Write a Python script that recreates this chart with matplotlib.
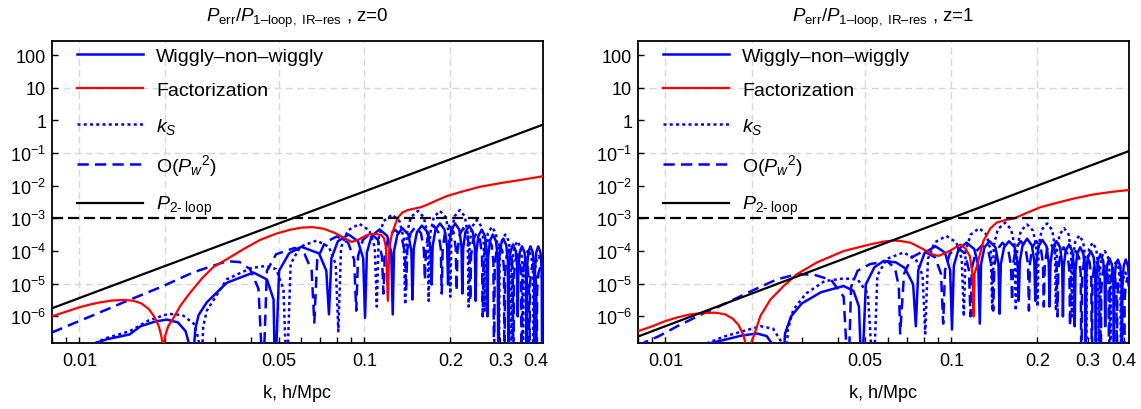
import numpy as np
import matplotlib.pyplot as plt
from matplotlib.ticker import FixedLocator, FuncFormatter, NullFormatter

plt.rcParams['font.family'] = ['Liberation Sans', 'DejaVu Sans']
plt.rcParams['mathtext.fontset'] = 'custom'
plt.rcParams['mathtext.rm'] = 'Liberation Sans'
plt.rcParams['mathtext.it'] = 'Liberation Sans:italic'
plt.rcParams['mathtext.sf'] = 'Liberation Sans'

# ---------------- z = 0 ----------------
k_2loop_z0 = [0.008, 0.423]
p_2loop_z0 = [1.76e-6, 0.74]

k_fact_z0 = [0.008, 0.009, 0.010, 0.011, 0.012, 0.013, 0.0143, 0.0155, 0.0165, 0.0175,
             0.0183, 0.0190, 0.0194, 0.0197, 0.0200, 0.0205, 0.0214, 0.0226, 0.0245, 0.027,
             0.0296, 0.0332, 0.038, 0.0431, 0.049, 0.055, 0.060, 0.0658, 0.072, 0.0787,
             0.085, 0.0903, 0.096, 0.1013, 0.1045, 0.110, 0.1145, 0.117, 0.119, 0.1208,
             0.1222, 0.1245, 0.1265, 0.129, 0.131, 0.1357, 0.142, 0.150, 0.158, 0.1656,
             0.180, 0.1945, 0.220, 0.2547, 0.300, 0.370, 0.423]
p_fact_z0 = [1.0e-6, 1.4e-6, 1.9e-6, 2.35e-6, 2.75e-6, 3.05e-6, 3.2e-6, 3.0e-6, 2.5e-6, 1.7e-6,
             1.0e-6, 5e-7, 2.5e-7, 1.0e-7, 2.5e-7, 5e-7, 9e-7, 2.1e-6, 5.4e-6, 1.5e-5,
             3.3e-5, 5.9e-5, 1.2e-4, 2.2e-4, 3.4e-4, 4.5e-4, 5.2e-4, 5.4e-4, 4.8e-4, 3.6e-4,
             2.5e-4, 1.9e-4, 2.3e-4, 3.0e-4, 3.3e-4, 3.3e-4, 3.1e-4, 2.5e-4, 1.3e-4, 3e-6,
             1.2e-4, 3e-4, 4.6e-4, 7.5e-4, 1.05e-3, 1.5e-3, 1.8e-3, 2.0e-3, 2.2e-3, 2.6e-3,
             3.6e-3, 4.8e-3, 6.6e-3, 9.3e-3, 1.2e-2, 1.6e-2, 1.95e-2]

k_wig_z0 = [0.0110, 0.0113, 0.0125, 0.015, 0.0164, 0.0185, 0.0203, 0.0222, 0.0236, 0.0244, 0.0248,
            0.0255, 0.0262, 0.028, 0.0329, 0.0408, 0.0455, 0.048, 0.0486,
            0.0502, 0.0544, 0.060, 0.0693, 0.0735, 0.0751,
            0.0766, 0.0807, 0.088, 0.0949, 0.099, 0.1005,
            0.102, 0.106, 0.113, 0.1202, 0.1242, 0.1257,
            0.127, 0.1305, 0.136, 0.1426, 0.1461, 0.1474,
            0.1489, 0.1528, 0.159, 0.1666, 0.1705, 0.172,
            0.1735, 0.1774, 0.184, 0.1911, 0.195, 0.1965,
            0.198, 0.2018, 0.208, 0.2152, 0.219, 0.2205,
            0.222, 0.226, 0.233, 0.240, 0.244, 0.2455,
            0.247, 0.2509, 0.258, 0.2646, 0.2685, 0.270,
            0.2715, 0.2755, 0.282, 0.2894, 0.2934, 0.2949,
            0.2964, 0.3004, 0.307, 0.3145, 0.3185, 0.320,
            0.3215, 0.3255, 0.332, 0.3395, 0.3435, 0.345,
            0.3465, 0.3505, 0.357, 0.3645, 0.3685, 0.370,
            0.3715, 0.3755, 0.382, 0.3895, 0.3935, 0.395,
            0.3965, 0.4005, 0.407, 0.4145, 0.4185, 0.420, 0.423]
p_wig_z0 = [1e-8, 1.5e-7, 2e-7, 2.8e-7, 5e-7, 7e-7, 8e-7, 6.5e-7, 3.5e-7, 1.2e-7, 1e-8,
            4e-7, 1.1e-6, 2.7e-6, 1.07e-5, 2.2e-5, 1.35e-5, 3.3e-6, 1e-8,
            2.5e-5, 8.5e-5, 1.35e-4, 8.5e-5, 2.5e-5, 1.15e-6,
            6e-5, 2e-4, 3.2e-4, 2e-4, 6e-5, 9e-7,
            9e-5, 2.9e-4, 4.6e-4, 2.9e-4, 9e-5, 1.15e-6,
            1e-4, 3.2e-4, 5e-4, 3.2e-4, 1e-4, 3.3e-6,
            1.2e-4, 3.8e-4, 6e-4, 3.8e-4, 1.2e-4, 9.5e-6,
            1.4e-4, 4.5e-4, 7e-4, 4.5e-4, 1.4e-4, 9.5e-6,
            1.4e-4, 4.5e-4, 7e-4, 4.5e-4, 1.4e-4, 5e-6,
            1.2e-4, 3.8e-4, 6e-4, 3.8e-4, 1.2e-4, 3e-6,
            9e-5, 2.9e-4, 4.5e-4, 2.9e-4, 9e-5, 1e-6,
            6.4e-5, 2e-4, 3.2e-4, 2e-4, 6.4e-5, 1e-8,
            4.8e-5, 1.5e-4, 2.4e-4, 1.5e-4, 4.8e-5, 1e-8,
            3.2e-5, 1e-4, 1.6e-4, 1e-4, 3.2e-5, 1e-6,
            2.8e-5, 9e-5, 1.4e-4, 9e-5, 2.8e-5, 1e-8,
            2.8e-5, 9e-5, 1.4e-4, 9e-5, 2.8e-5, 1e-8,
            2.8e-5, 9e-5, 1.4e-4, 9e-5, 2.8e-5, 1e-8, 2e-5]

k_ks_z0 = [0.0112, 0.0115, 0.0125, 0.015, 0.0175, 0.0205, 0.023, 0.0252, 0.0262, 0.0267,
           0.0272, 0.028, 0.0329, 0.040, 0.045, 0.049, 0.052, 0.0534,
           0.0551, 0.0595, 0.068, 0.075, 0.0793, 0.081,
           0.0828, 0.0875, 0.096, 0.104, 0.1087, 0.1105,
           0.1122, 0.1168, 0.125, 0.1327, 0.1373, 0.139,
           0.1407, 0.1454, 0.154, 0.1616, 0.1663, 0.168,
           0.1699, 0.175, 0.184, 0.193, 0.1981, 0.200,
           0.2019, 0.207, 0.216, 0.225, 0.2301, 0.232,
           0.2339, 0.239, 0.248, 0.257, 0.2621, 0.264,
           0.2659, 0.271, 0.280, 0.289, 0.2941, 0.296,
           0.2979, 0.303, 0.312, 0.321, 0.3261, 0.328,
           0.3299, 0.335, 0.344, 0.353, 0.3581, 0.360,
           0.3619, 0.367, 0.376, 0.385, 0.3901, 0.392,
           0.3939, 0.399, 0.408, 0.417, 0.423]
p_ks_z0 = [1e-8, 1.6e-7, 2.2e-7, 3.5e-7, 7.5e-7, 1.2e-6, 1.1e-6, 6e-7, 2e-7, 1e-8,
           5e-7, 1.5e-6, 1.37e-5, 3e-5, 3.5e-5, 2.8e-5, 7e-6, 1e-8,
           4e-5, 1.35e-4, 2.1e-4, 1.35e-4, 4e-5, 3.5e-7,
           1.3e-4, 4.3e-4, 6.8e-4, 4.3e-4, 1.3e-4, 2e-6,
           2.5e-4, 8.3e-4, 1.3e-3, 8.3e-4, 2.5e-4, 2.3e-6,
           3.3e-4, 1.08e-3, 1.7e-3, 1.08e-3, 3.3e-4, 3e-6,
           3.3e-4, 1.08e-3, 1.7e-3, 1.08e-3, 3.3e-4, 4e-6,
           3.5e-4, 1.15e-3, 1.8e-3, 1.15e-3, 3.5e-4, 2e-6,
           1.8e-4, 5.7e-4, 9e-4, 5.7e-4, 1.8e-4, 1.5e-6,
           1.1e-4, 3.5e-4, 5.5e-4, 3.5e-4, 1.1e-4, 1e-8,
           6.4e-5, 2e-4, 3.2e-4, 2e-4, 6.4e-5, 1e-8,
           4e-5, 1.3e-4, 2e-4, 1.3e-4, 4e-5, 1e-8,
           2.2e-5, 7e-5, 1.1e-4, 7e-5, 2.2e-5, 1e-8,
           1.4e-5, 4.5e-5, 7e-5, 4.5e-5, 1.5e-5]

k_pw2_z0 = [0.008, 0.0095, 0.0115, 0.0143, 0.0197, 0.025, 0.0296, 0.033, 0.0365, 0.0397, 0.0425, 0.0441,
            0.0455, 0.049, 0.057, 0.0617, 0.0653, 0.0667,
            0.0683, 0.0726, 0.080, 0.0877, 0.092, 0.0936,
            0.095, 0.0987, 0.105, 0.1115, 0.1152, 0.1166,
            0.118, 0.1218, 0.128, 0.1348, 0.1386, 0.140,
            0.1414, 0.1451, 0.151, 0.1579, 0.1616, 0.163,
            0.1644, 0.1682, 0.175, 0.1815, 0.1853, 0.1867,
            0.1881, 0.1919, 0.198, 0.2053, 0.2091, 0.2105,
            0.212, 0.2159, 0.222, 0.2296, 0.2335, 0.235,
            0.2365, 0.2405, 0.247, 0.2545, 0.2585, 0.260,
            0.2615, 0.2655, 0.272, 0.2794, 0.2834, 0.2849,
            0.2864, 0.2904, 0.297, 0.3045, 0.3085, 0.310,
            0.3114, 0.3151, 0.321, 0.3279, 0.3316, 0.333,
            0.3344, 0.3381, 0.344, 0.3509, 0.3546, 0.356,
            0.3574, 0.3611, 0.367, 0.3739, 0.3776, 0.379,
            0.3804, 0.3841, 0.390, 0.3969, 0.4006, 0.402,
            0.4034, 0.4071, 0.413, 0.420, 0.423]
p_pw2_z0 = [3.2e-7, 6e-7, 1.2e-6, 2.7e-6, 8.5e-6, 2.2e-5, 3.6e-5, 4.9e-5, 4.6e-5, 2.8e-5, 7e-6, 1e-8,
            2.5e-5, 8e-5, 1.25e-4, 8e-5, 2.5e-5, 6.5e-7,
            5.5e-5, 1.8e-4, 2.8e-4, 1.8e-4, 5.5e-5, 1.5e-6,
            7e-5, 2.2e-4, 3.5e-4, 2.2e-4, 7e-5, 5e-6,
            9e-5, 2.9e-4, 4.5e-4, 2.9e-4, 9e-5, 6e-6,
            1.1e-4, 3.5e-4, 5.5e-4, 3.5e-4, 1.1e-4, 1.3e-5,
            1.2e-4, 3.8e-4, 6e-4, 3.8e-4, 1.2e-4, 5e-6,
            1.2e-4, 3.8e-4, 6e-4, 3.8e-4, 1.2e-4, 6e-6,
            1e-4, 3.2e-4, 5e-4, 3.2e-4, 1e-4, 3e-6,
            7e-5, 2.2e-4, 3.5e-4, 2.2e-4, 7e-5, 1e-6,
            4.8e-5, 1.5e-4, 2.4e-4, 1.5e-4, 4.8e-5, 1e-8,
            3.2e-5, 1e-4, 1.6e-4, 1e-4, 3.2e-5, 1e-8,
            2.2e-5, 7e-5, 1.1e-4, 7e-5, 2.2e-5, 1e-8,
            1.6e-5, 5e-5, 8e-5, 5e-5, 1.6e-5, 1e-8,
            1e-5, 3.2e-5, 5e-5, 3.2e-5, 1e-5, 1e-8,
            8e-6, 2.5e-5, 4e-5, 2.5e-5, 8e-6, 1e-8,
            6e-6, 2e-5, 3e-5, 1.5e-5, 5e-6]

# ---------------- z = 1 ----------------
k_2loop_z1 = [0.008, 0.418]
p_2loop_z1 = [2.4e-7, 0.115]

k_fact_z1 = [0.008, 0.009, 0.010, 0.011, 0.0122, 0.0135, 0.015, 0.0162, 0.0172, 0.0180,
             0.0187, 0.0192, 0.01954, 0.0199, 0.0204, 0.0215, 0.0233, 0.0259, 0.0288, 0.0339,
             0.042, 0.052, 0.058, 0.063, 0.0662, 0.072, 0.080, 0.0855, 0.0902, 0.096,
             0.1008, 0.1074, 0.112, 0.116, 0.1185, 0.1195, 0.1205, 0.1228, 0.1294, 0.137,
             0.144, 0.155, 0.165, 0.1837, 0.205, 0.234, 0.270, 0.314, 0.360, 0.418]
p_fact_z1 = [3.5e-7, 5e-7, 7.2e-7, 9.3e-7, 1.15e-6, 1.27e-6, 1.3e-6, 1.15e-6, 8.5e-7, 5.5e-7,
             2.8e-7, 1.2e-7, 6e-8, 1.5e-7, 2.6e-7, 1.05e-6, 3.3e-6, 8.5e-6, 1.95e-5, 4.5e-5,
             1.0e-4, 1.6e-4, 1.95e-4, 2.1e-4, 2.04e-4, 1.8e-4, 1.12e-4, 8e-5, 7.1e-5, 9e-5,
             1.12e-4, 1.58e-4, 1.2e-4, 7e-5, 2e-5, 1.0e-6, 2e-5, 3.5e-5, 2.04e-4, 5e-4,
             7.4e-4, 9e-4, 9.8e-4, 1.48e-3, 2.2e-3, 3.0e-3, 4.1e-3, 5.4e-3, 6.4e-3, 7.4e-3]

k_wig_z1 = [0.0142, 0.0145, 0.016, 0.0185, 0.0209, 0.0226, 0.0238, 0.0245,
            0.0256, 0.0262, 0.0275, 0.030, 0.035, 0.042, 0.0455, 0.0475, 0.0486,
            0.0502, 0.0538, 0.058, 0.064, 0.0688, 0.0735, 0.0751,
            0.0766, 0.0807, 0.088, 0.0949, 0.099, 0.1005,
            0.102, 0.106, 0.113, 0.1202, 0.1242, 0.1257,
            0.127, 0.1305, 0.136, 0.1426, 0.1461, 0.1474,
            0.1489, 0.1528, 0.159, 0.1666, 0.1705, 0.172,
            0.1735, 0.1774, 0.184, 0.1911, 0.195, 0.1965,
            0.198, 0.2018, 0.208, 0.2152, 0.219, 0.2205,
            0.222, 0.226, 0.233, 0.240, 0.244, 0.2455,
            0.247, 0.2509, 0.258, 0.2646, 0.2685, 0.270,
            0.2715, 0.2755, 0.282, 0.2894, 0.2934, 0.2949,
            0.2964, 0.3004, 0.307, 0.3145, 0.3185, 0.320,
            0.3215, 0.3255, 0.332, 0.3395, 0.3435, 0.345,
            0.3465, 0.3505, 0.357, 0.3645, 0.3685, 0.370,
            0.3715, 0.3755, 0.382, 0.3895, 0.3935, 0.395,
            0.3965, 0.4005, 0.407, 0.4145, 0.418]
p_wig_z1 = [1e-8, 1.55e-7, 1.9e-7, 2.6e-7, 3e-7, 2.5e-7, 1.3e-7, 1e-8,
            1e-8, 3e-7, 1e-6, 2.5e-6, 5.5e-6, 8.5e-6, 6e-6, 2e-6, 1e-8,
            9.5e-6, 3.2e-5, 5e-5, 4.5e-5, 3e-5, 9.5e-6, 5e-7,
            2.6e-5, 9e-5, 1.4e-4, 9e-5, 2.6e-5, 4e-7,
            3.6e-5, 1.15e-4, 1.8e-4, 1.15e-4, 3.6e-5, 6e-7,
            4e-5, 1.3e-4, 2e-4, 1.3e-4, 4e-5, 1.2e-6,
            4e-5, 1.3e-4, 2e-4, 1.3e-4, 4e-5, 3e-6,
            4.8e-5, 1.5e-4, 2.4e-4, 1.5e-4, 4.8e-5, 3e-6,
            4.4e-5, 1.4e-4, 2.2e-4, 1.4e-4, 4.4e-5, 2e-6,
            4e-5, 1.3e-4, 2e-4, 1.3e-4, 4e-5, 1e-6,
            3.2e-5, 1e-4, 1.6e-4, 1e-4, 3.2e-5, 5e-7,
            2.6e-5, 8.3e-5, 1.3e-4, 8.3e-5, 2.6e-5, 1e-8,
            2e-5, 6.4e-5, 1e-4, 6.4e-5, 2e-5, 1e-8,
            1.6e-5, 5e-5, 8e-5, 5e-5, 1.6e-5, 5e-7,
            1.2e-5, 3.8e-5, 6e-5, 3.8e-5, 1.2e-5, 1e-8,
            1.1e-5, 3.5e-5, 5.5e-5, 3.5e-5, 1.1e-5, 1e-8,
            1.1e-5, 3.5e-5, 5.5e-5, 3.5e-5, 1.5e-5]

k_ks_z1 = [0.0138, 0.0141, 0.016, 0.019, 0.0215, 0.0238, 0.0255, 0.0262,
           0.0268, 0.028, 0.031, 0.036, 0.042, 0.047, 0.051, 0.0534,
           0.0551, 0.0595, 0.068, 0.075, 0.0793, 0.081,
           0.0828, 0.0875, 0.096, 0.104, 0.1087, 0.1105,
           0.1122, 0.1168, 0.125, 0.1327, 0.1373, 0.139,
           0.1407, 0.1454, 0.154, 0.1616, 0.1663, 0.168,
           0.1699, 0.175, 0.184, 0.193, 0.1981, 0.200,
           0.2019, 0.207, 0.216, 0.225, 0.2301, 0.232,
           0.2339, 0.239, 0.248, 0.257, 0.2621, 0.264,
           0.2659, 0.271, 0.280, 0.289, 0.2941, 0.296,
           0.2979, 0.303, 0.312, 0.321, 0.3261, 0.328,
           0.3299, 0.335, 0.344, 0.353, 0.3581, 0.360,
           0.3619, 0.367, 0.376, 0.385, 0.3901, 0.392,
           0.3939, 0.399, 0.406, 0.413, 0.418]
p_ks_z1 = [1e-8, 1.55e-7, 2.4e-7, 3.7e-7, 5e-7, 4.2e-7, 1.6e-7, 1e-8,
           4e-7, 1.6e-6, 5e-6, 1.2e-5, 1.45e-5, 1.35e-5, 5e-6, 1e-8,
           1.8e-5, 5.8e-5, 9e-5, 5.8e-5, 1.8e-5, 3e-7,
           5.8e-5, 1.85e-4, 2.9e-4, 1.85e-4, 5.8e-5, 1e-6,
           1e-4, 3.2e-4, 5e-4, 3.2e-4, 1e-4, 1.5e-6,
           1.5e-4, 4.7e-4, 7.4e-4, 4.7e-4, 1.5e-4, 1.5e-6,
           1.3e-4, 4.2e-4, 6.5e-4, 4.2e-4, 1.3e-4, 2e-6,
           1.4e-4, 4.5e-4, 7e-4, 4.5e-4, 1.4e-4, 1.5e-6,
           1e-4, 3.2e-4, 5e-4, 3.2e-4, 1e-4, 1e-6,
           6e-5, 1.9e-4, 3e-4, 1.9e-4, 6e-5, 1e-8,
           3.6e-5, 1.15e-4, 1.8e-4, 1.15e-4, 3.6e-5, 1e-8,
           2e-5, 6.4e-5, 1e-4, 6.4e-5, 2e-5, 1e-8,
           9e-6, 2.9e-5, 4.5e-5, 2.9e-5, 9e-6, 1e-8,
           5e-6, 1.4e-5, 2.2e-5, 1.6e-5, 8e-6]

k_pw2_z1 = [0.008, 0.0095, 0.011, 0.0135, 0.0164, 0.020, 0.0245, 0.0288, 0.033, 0.038, 0.042, 0.0436,
            0.0446, 0.047, 0.052, 0.0596, 0.0635, 0.0655, 0.0662,
            0.0683, 0.0726, 0.080, 0.0877, 0.092, 0.0936,
            0.095, 0.0987, 0.105, 0.1115, 0.1152, 0.1166,
            0.118, 0.1218, 0.128, 0.1348, 0.1386, 0.140,
            0.1414, 0.1451, 0.151, 0.1579, 0.1616, 0.163,
            0.1644, 0.1682, 0.175, 0.1815, 0.1853, 0.1867,
            0.1881, 0.1919, 0.198, 0.2053, 0.2091, 0.2105,
            0.212, 0.2159, 0.222, 0.2296, 0.2335, 0.235,
            0.2365, 0.2405, 0.247, 0.2545, 0.2585, 0.260,
            0.2615, 0.2655, 0.272, 0.2794, 0.2834, 0.2849,
            0.2864, 0.2904, 0.297, 0.3045, 0.3085, 0.310,
            0.3114, 0.3151, 0.321, 0.3279, 0.3316, 0.333,
            0.3344, 0.3381, 0.344, 0.3509, 0.3546, 0.356,
            0.3574, 0.3611, 0.367, 0.3739, 0.3776, 0.379,
            0.3804, 0.3841, 0.390, 0.3969, 0.4006, 0.402,
            0.4034, 0.4071, 0.413, 0.418]
p_pw2_z1 = [1.3e-7, 2.5e-7, 5e-7, 1.2e-6, 2.6e-6, 6e-6, 1.35e-5, 1.95e-5, 1.9e-5, 1.3e-5, 4e-6, 1e-8,
            8e-6, 2.5e-5, 4e-5, 4.9e-5, 3e-5, 8e-6, 3e-7,
            2e-5, 6.4e-5, 1e-4, 6.4e-5, 2e-5, 6e-7,
            2.6e-5, 8.3e-5, 1.3e-4, 8.3e-5, 2.6e-5, 1e-6,
            3e-5, 9.6e-5, 1.5e-4, 9.6e-5, 3e-5, 1.5e-6,
            3.6e-5, 1.15e-4, 1.8e-4, 1.15e-4, 3.6e-5, 3e-6,
            4e-5, 1.3e-4, 2e-4, 1.3e-4, 4e-5, 1.5e-6,
            4e-5, 1.3e-4, 2e-4, 1.3e-4, 4e-5, 2e-6,
            3.4e-5, 1.1e-4, 1.7e-4, 1.1e-4, 3.4e-5, 1e-6,
            2.6e-5, 8.3e-5, 1.3e-4, 8.3e-5, 2.6e-5, 5e-7,
            2e-5, 6.4e-5, 1e-4, 6.4e-5, 2e-5, 1e-8,
            1.4e-5, 4.5e-5, 7e-5, 4.5e-5, 1.4e-5, 1e-8,
            1e-5, 3.2e-5, 5e-5, 3.2e-5, 1e-5, 1e-8,
            7e-6, 2.2e-5, 3.5e-5, 2.2e-5, 7e-6, 1e-8,
            5e-6, 1.6e-5, 2.5e-5, 1.6e-5, 5e-6, 1e-8,
            4e-6, 1.3e-5, 2e-5, 1.3e-5, 4e-6, 1e-8,
            3e-6, 1e-5, 1.5e-5, 8e-6]

titles = ["$P_{\\rm err}/P_{\\rm 1\u2013loop,\\ IR\u2013res}$ , z=0",
          "$P_{\\rm err}/P_{\\rm 1\u2013loop,\\ IR\u2013res}$ , z=1"]
labels = ["Wiggly\u2013non\u2013wiggly", "Factorization", "$k_S$",
          "O($P_w{}^2$)", "$P_{\\rm 2\u2010\\ loop}$"]
xmaxs = [0.423, 0.418]
threshold = 1e-3

panels = [
    dict(wig=(k_wig_z0, p_wig_z0), fact=(k_fact_z0, p_fact_z0), ks=(k_ks_z0, p_ks_z0),
         pw2=(k_pw2_z0, p_pw2_z0), loop2=(k_2loop_z0, p_2loop_z0)),
    dict(wig=(k_wig_z1, p_wig_z1), fact=(k_fact_z1, p_fact_z1), ks=(k_ks_z1, p_ks_z1),
         pw2=(k_pw2_z1, p_pw2_z1), loop2=(k_2loop_z1, p_2loop_z1)),
]


def ytick_fmt(v, pos):
    e = int(round(np.log10(v)))
    if e >= 0:
        return str(int(round(v)))
    return r"$\mathregular{10^{%d}}$" % e


fig = plt.figure(figsize=(11.41, 4.10), dpi=100)
axes = [fig.add_axes([0.0453, 0.1602, 0.4306, 0.7381]),
        fig.add_axes([0.5589, 0.1602, 0.4306, 0.7381])]

blue = '#0000ff'
for ax, d, title, xmax in zip(axes, panels, titles, xmaxs):
    ax.plot(*d['wig'], color=blue, lw=1.8, label=labels[0], zorder=3)
    ax.plot(*d['fact'], color='#ff0000', lw=1.6, label=labels[1], zorder=4)
    ax.plot(*d['ks'], color=blue, lw=1.8, ls=(0, (1.2, 1.3)), label=labels[2], zorder=3)
    ax.plot(*d['pw2'], color=blue, lw=1.8, ls=(0, (4.5, 2.5)), label=labels[3], zorder=3)
    ax.plot(*d['loop2'], color='black', lw=1.6, label=labels[4], zorder=4)
    ax.axhline(threshold, color='black', lw=1.6, ls=(0, (5, 2.2)), zorder=4)

    ax.set_xscale('log')
    ax.set_yscale('log')
    ax.set_xlim(0.008, xmax)
    ax.set_ylim(1.5e-7, 274)

    ax.xaxis.set_major_locator(FixedLocator([0.01, 0.05, 0.1, 0.2, 0.3, 0.4]))
    ax.xaxis.set_major_formatter(FuncFormatter(lambda v, p: ('%g' % v)))
    ax.xaxis.set_minor_locator(FixedLocator([0.008, 0.009, 0.02, 0.03, 0.04, 0.06, 0.07, 0.08, 0.09]))
    ax.xaxis.set_minor_formatter(NullFormatter())
    ax.yaxis.set_major_locator(FixedLocator([1e-6, 1e-5, 1e-4, 1e-3, 1e-2, 1e-1, 1, 10, 100]))
    ax.yaxis.set_major_formatter(FuncFormatter(ytick_fmt))
    ax.yaxis.set_minor_locator(FixedLocator([]))
    ax.tick_params(which='both', direction='in', length=4.5, width=1.0, labelsize=13,
                   top=False, right=False)
    ax.tick_params(axis='x', pad=6)
    ax.tick_params(axis='y', pad=4)

    for g in [0.01, 0.02, 0.05, 0.1, 0.2]:
        ax.axvline(g, color='#d8d8d8', lw=1.0, ls=(0, (5, 3)), zorder=0)
    for g in [10, 0.1, 1e-5]:
        ax.axhline(g, color='#d8d8d8', lw=1.0, ls=(0, (5, 3)), zorder=0)

    for s in ax.spines.values():
        s.set_linewidth(1.3)

    ax.set_xlabel('k, h/Mpc', fontsize=13, labelpad=11)
    ax.set_title(title, fontsize=13.5, pad=14)
    ax.legend(loc='upper left', bbox_to_anchor=(0.052, 0.977), frameon=False, fontsize=14,
              handlelength=3.4, handletextpad=0.65, labelspacing=0.84, borderpad=0,
              borderaxespad=0)

fig.savefig('out.png', dpi=100)
